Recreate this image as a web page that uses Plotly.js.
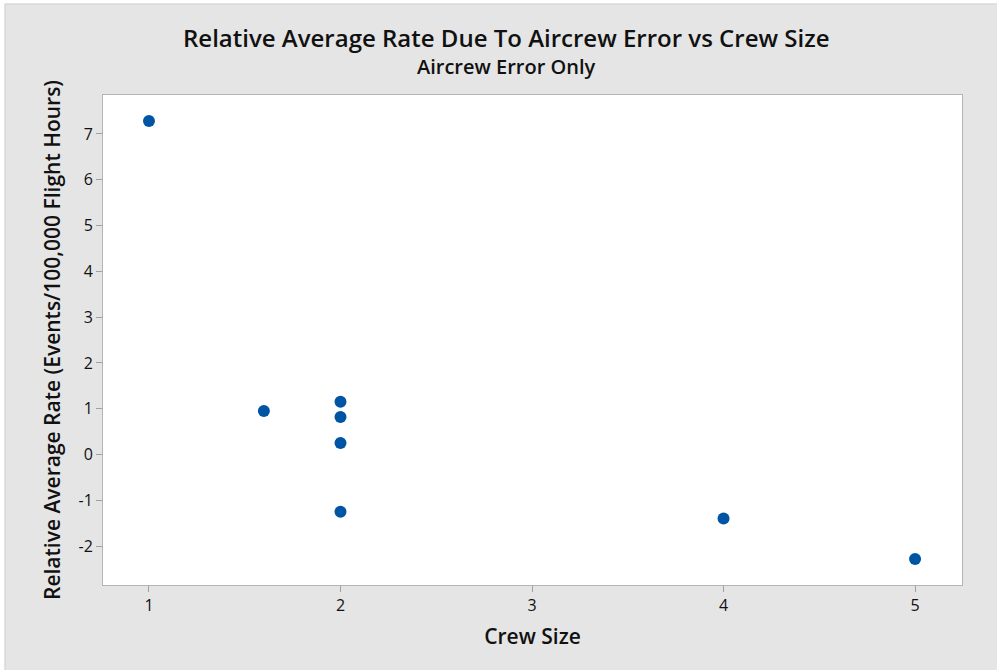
<!DOCTYPE html>
<html>
<head>
<meta charset="utf-8">
<script src="https://cdn.plot.ly/plotly-3.0.1.min.js"></script>
<style>html,body{margin:0;padding:0;background:#fff;}#chart{width:997px;height:670px;}</style>
</head>
<body>
<div id="chart"></div>
<script>
const crewSize = [1, 1.6, 2, 2, 2, 2, 4, 5];
const relativeRate = [7.28, 0.95, 1.15, 0.82, 0.25, -1.25, -1.40, -2.28];
const xTicks = [1, 2, 3, 4, 5];
const yTicks = [-2, -1, 0, 1, 2, 3, 4, 5, 6, 7];

const L = 103, R = 962, T = 95, B = 585, W = 997, H = 670;
const px = p => (p - L) / (R - L);
const py = p => (B - p) / (B - T);
const font = '"Open Sans", "Noto Sans", sans-serif';

const trace = {
  x: crewSize, y: relativeRate, type: 'scatter', mode: 'markers',
  marker: {symbol: 'circle', size: 12, color: '#0054a4'},
  hoverinfo: 'x+y'
};

const layout = {
  width: W, height: H,
  margin: {l: L, r: W - R, t: T, b: H - B},
  paper_bgcolor: '#e5e5e5',
  plot_bgcolor: '#ffffff',
  showlegend: false,
  font: {family: font, color: '#111'},
  xaxis: {
    range: [0.76, 5.245], tickvals: xTicks, ticktext: xTicks.map(String),
    showgrid: false, zeroline: false, showline: true, mirror: true,
    linecolor: '#b4b4b4', linewidth: 1,
    ticks: 'outside', ticklen: 6, tickcolor: '#a0a0a0',
    tickfont: {size: 16, family: font, color: '#111'},
    title: {text: 'Crew Size', font: {size: 21, family: font, color: '#111', weight: 600}, standoff: 14}
  },
  yaxis: {
    range: [-2.85, 7.85], tickvals: yTicks, ticktext: yTicks.map(String),
    showgrid: false, zeroline: false, showline: true, mirror: true,
    linecolor: '#b4b4b4', linewidth: 1,
    ticks: 'outside', ticklen: 6, tickcolor: '#a0a0a0',
    tickfont: {size: 16, family: font, color: '#111'},
    title: {text: 'Relative Average Rate (Events/100,000 Flight Hours)', font: {size: 21, family: font, color: '#111', weight: 600}, standoff: 12}
  },
  shapes: [
    {type: 'rect', xref: 'paper', yref: 'paper', layer: 'above',
     x0: px(-5), x1: px(1010), y0: py(-5), y1: py(3.5),
     fillcolor: '#ffffff', line: {width: 0}},
    {type: 'rect', xref: 'paper', yref: 'paper', layer: 'above',
     x0: px(-5), x1: px(4.5), y0: py(-5), y1: py(690),
     fillcolor: '#ffffff', line: {width: 0}},
    {type: 'rect', xref: 'paper', yref: 'paper', layer: 'above',
     x0: px(5), x1: px(1010), y0: py(4), y1: py(690),
     fillcolor: 'rgba(0,0,0,0)', line: {color: '#d2d2d2', width: 1}}
  ],
  annotations: [
    {text: 'Relative Average Rate Due To Aircrew Error vs Crew Size', xref: 'paper', yref: 'paper',
     x: px(506), y: py(38), xanchor: 'center', yanchor: 'middle', showarrow: false,
     font: {size: 24, family: font, color: '#111', weight: 600}},
    {text: 'Aircrew Error Only', xref: 'paper', yref: 'paper',
     x: px(506), y: py(67), xanchor: 'center', yanchor: 'middle', showarrow: false,
     font: {size: 20, family: font, color: '#111', weight: 600}}
  ]
};

Plotly.newPlot('chart', [trace], layout, {displayModeBar: false, staticPlot: true});
</script>
</body>
</html>
